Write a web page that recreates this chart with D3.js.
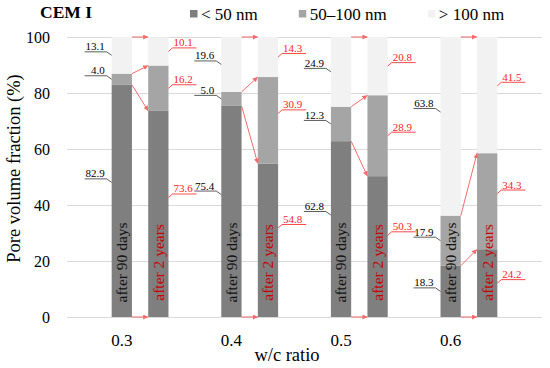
<!DOCTYPE html>
<html>
<head>
<meta charset="utf-8">
<script src="https://cdn.jsdelivr.net/npm/d3@7"></script>
<style>
  body { margin: 0; background: #fff; }
  text { font-family: "Liberation Serif", "Times New Roman", serif; }
</style>
</head>
<body>
<svg id="chart" width="550" height="368"></svg>
<script>
const wcRatios = ["0.3", "0.4", "0.5", "0.6"]
const ages = ["after 90 days", "after 2 years"]
const sizeClasses = ["< 50 nm", "50–100 nm", "> 100 nm"]
const fine90d = [82.9, 75.4, 62.8, 18.3]
const medium90d = [4.0, 5.0, 12.3, 17.9]
const coarse90d = [13.1, 19.6, 24.9, 63.8]
const fine2y = [73.6, 54.8, 50.3, 24.2]
const medium2y = [16.2, 30.9, 28.9, 34.3]
const coarse2y = [10.1, 14.3, 20.8, 41.5]
const yTicks = [0, 20, 40, 60, 80, 100]

const colors = ["#7f7f7f", "#a5a5a5", "#f2f2f2"]
const red = "#ff1a1a"
const arrowRed = "#f36b6b"

// one row per bar, slots: gap, 90d, 2y, gap, ...
const rows = []
wcRatios.forEach((wc, i) => {
  rows.push({wc: wc, age: 0, slot: 1 + 3 * i,
    [sizeClasses[0]]: fine90d[i], [sizeClasses[1]]: medium90d[i], [sizeClasses[2]]: coarse90d[i]})
  rows.push({wc: wc, age: 1, slot: 2 + 3 * i,
    [sizeClasses[0]]: fine2y[i], [sizeClasses[1]]: medium2y[i], [sizeClasses[2]]: coarse2y[i]})
})
const series = d3.stack().keys(sizeClasses)(rows)

const svg = d3.select("#chart")

let x = d3.scaleBand()
          .domain(d3.range(13))
          .range([67, 542])
          .paddingInner(0.445)
          .paddingOuter(0.2225)
let bw = x.bandwidth()

let y = d3.scaleLinear()
          .domain([0, 100])
          .range([317, 37])

// grid + y ticks
let gy = svg.append("g")
            .attr("transform", "translate(67,0)")
            .call(d3.axisLeft(y).tickValues(yTicks).tickSize(-475).tickPadding(17))
gy.select(".domain").remove()
gy.selectAll("line").attr("stroke", "#d9d9d9")
gy.selectAll("text").attr("font-size", 16).attr("fill", "#000")
  .style("font-family", "'Liberation Serif', serif")

// x tick labels under the 90-day bars
let gx = svg.append("g")
            .attr("transform", "translate(0,317)")
            .call(d3.axisBottom(x)
                    .tickValues(rows.filter(r => r.age == 0).map(r => r.slot))
                    .tickFormat(s => wcRatios[(s - 1) / 3])
                    .tickSize(0).tickPadding(17))
gx.select(".domain").remove()
gx.selectAll("text").attr("font-size", 17).attr("fill", "#000")
  .style("font-family", "'Liberation Serif', serif")

// bars
svg.append("g").selectAll("g")
   .data(series)
   .join("g")
   .attr("fill", (d, i) => colors[i])
   .selectAll("rect")
   .data(d => d)
   .join("rect")
   .attr("x", d => x(d.data.slot))
   .attr("y", d => y(d[1]))
   .attr("width", bw)
   .attr("height", d => y(d[0]) - y(d[1]))

// rotated text in bars
svg.append("g").selectAll("text")
   .data(rows)
   .join("text")
   .attr("transform", d => `translate(${x(d.slot) + bw / 2},${y(19.5)}) rotate(-90)`)
   .attr("text-anchor", "middle")
   .attr("dy", "0.35em")
   .attr("font-size", 15.5)
   .attr("fill", d => d.age == 0 ? "#111" : "#c80000")
   .text(d => ages[d.age])

// value labels with leader lines
let fmt = d3.format(".1f")
let lab = svg.append("g")
series.forEach(s => {
  s.forEach(d => {
    let v = d[1] - d[0]
    let ey = y(d[0] + (v < 30 ? 0.5 : 0.58) * v)
    if (d.data.age == 0) {
      let bx = x(d.data.slot)
      lab.append("path")
         .attr("d", `M${bx - 27},${ey - 3.5}H${bx - 5}L${bx},${ey}`)
         .attr("fill", "none").attr("stroke", "#333").attr("stroke-width", 0.8)
      lab.append("text")
         .attr("x", bx - 7).attr("y", ey - 5)
         .attr("text-anchor", "end").attr("font-size", 11).attr("fill", "#000")
         .text(fmt(v))
    } else {
      let bx = x(d.data.slot) + bw
      lab.append("path")
         .attr("d", `M${bx},${ey}L${bx + 4},${ey - 3.5}H${bx + 28}`)
         .attr("fill", "none").attr("stroke", red).attr("stroke-width", 0.8)
      lab.append("text")
         .attr("x", bx + 5).attr("y", ey - 5)
         .attr("font-size", 11).attr("fill", red)
         .text(fmt(v))
    }
  })
})

// arrows from 90-day boundaries to 2-year boundaries
svg.append("defs").append("marker")
   .attr("id", "head")
   .attr("viewBox", "0 0 6 6")
   .attr("refX", 6).attr("refY", 3)
   .attr("markerWidth", 5).attr("markerHeight", 5)
   .attr("markerUnits", "userSpaceOnUse")
   .attr("orient", "auto")
   .append("path").attr("d", "M0,0L6,3L0,6z").attr("fill", arrowRed)

let arrows = []
wcRatios.forEach((wc, i) => {
  let a = [0, fine90d[i], fine90d[i] + medium90d[i], 100]
  let b = [0, fine2y[i], fine2y[i] + medium2y[i], 100]
  a.forEach((v, k) => arrows.push({s1: 1 + 3 * i, s2: 2 + 3 * i, v1: v, v2: b[k]}))
})
svg.append("g").selectAll("line")
   .data(arrows)
   .join("line")
   .attr("x1", d => x(d.s1) + bw)
   .attr("y1", d => y(d.v1))
   .attr("x2", d => x(d.s2))
   .attr("y2", d => y(d.v2))
   .attr("stroke", arrowRed)
   .attr("stroke-width", 1)
   .attr("marker-end", "url(#head)")

// title, legend
svg.append("text")
   .attr("x", 40).attr("y", 18)
   .attr("font-size", 17.5).attr("font-weight", "bold")
   .text("CEM I")

let lx = 190
sizeClasses.forEach((name, i) => {
  svg.append("rect")
     .attr("x", lx).attr("y", 10).attr("width", 7.5).attr("height", 7.5)
     .attr("fill", colors[i])
  let t = svg.append("text")
             .attr("x", lx + 11).attr("y", 19.5)
             .attr("font-size", 17)
             .text(name)
  lx += 11 + t.node().getComputedTextLength() + 41
})

// axis titles
svg.append("text")
   .attr("transform", "translate(13.5,168.5) rotate(-90)")
   .attr("text-anchor", "middle").attr("dy", "0.35em")
   .attr("font-size", 18.5)
   .text("Pore volume fraction (%)")

svg.append("text")
   .attr("x", 287).attr("y", 361)
   .attr("text-anchor", "middle")
   .attr("font-size", 18.5)
   .text("w/c ratio")
</script>
</body>
</html>
